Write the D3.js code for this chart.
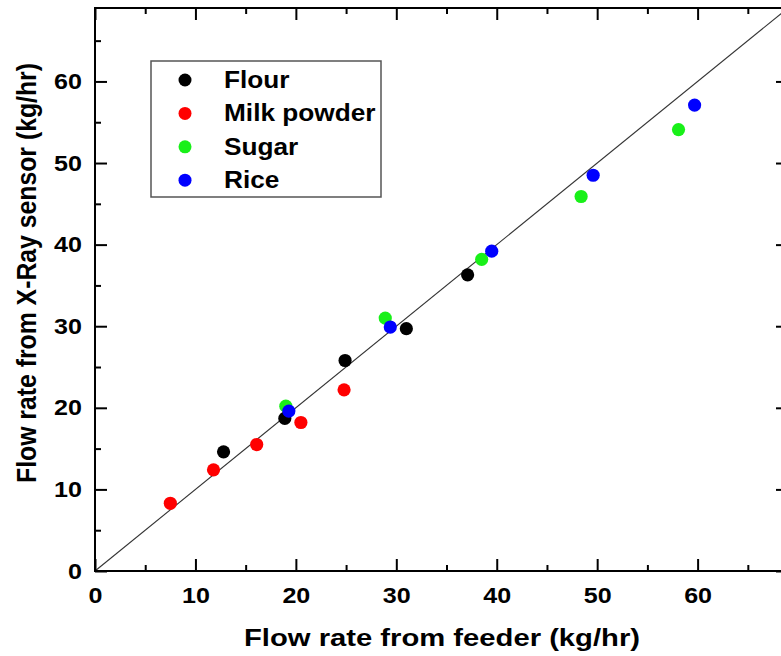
<!DOCTYPE html>
<html>
<head>
<meta charset="utf-8">
<script src="https://cdn.jsdelivr.net/npm/d3@7"></script>
<style>
  body { margin: 0; background: #fff; }
  text { font-family: "Liberation Sans", Arial, sans-serif; font-weight: bold; fill: #000; }
</style>
</head>
<body>
<svg id="chart" width="781" height="656"></svg>
<script>
// flow rate from feeder (x) vs flow rate from X-ray sensor (y), kg/hr
const seriesNames = ["Flour", "Milk powder", "Sugar", "Rice"];
const seriesColors = ["#000000", "#ff0000", "#19f019", "#0000ff"];

const flourX = [12.8, 18.9, 24.9, 31.0, 37.1];
const flourY = [14.6, 18.7, 25.8, 29.7, 36.3];
const milkX = [7.5, 11.8, 16.1, 20.5, 24.8];
const milkY = [8.3, 12.4, 15.5, 18.2, 22.2];
const sugarX = [19.0, 28.9, 38.5, 48.4, 58.1];
const sugarY = [20.2, 31.0, 38.2, 45.9, 54.1];
const riceX = [19.3, 29.4, 39.5, 49.6, 59.7];
const riceY = [19.6, 29.9, 39.2, 48.5, 57.1];

const majorTicks = [0, 10, 20, 30, 40, 50, 60];
const minorTicks = [5, 15, 25, 35, 45, 55, 65];

const plotLeft = 95, plotRight = 788, plotTop = 8, plotBottom = 571;
const stretchX = 1.14;

const svg = d3.select("#chart");

const x = d3.scaleLinear().domain([0, 69]).range([plotLeft, plotRight]);
const y = d3.scaleLinear().domain([0, 69]).range([plotBottom, plotTop]);

// widen text horizontally like the original image
const stretch = (sel) => sel.each(function () {
  const w = this.getComputedTextLength();
  d3.select(this).attr("textLength", w * stretchX).attr("lengthAdjust", "spacingAndGlyphs");
});

// y = x reference line
svg.append("line")
  .attr("x1", x(0)).attr("y1", y(0))
  .attr("x2", x(69)).attr("y2", y(69))
  .attr("stroke", "#333")
  .attr("stroke-width", 1.1);

const series = [
  { xs: flourX, ys: flourY },
  { xs: milkX, ys: milkY },
  { xs: sugarX, ys: sugarY },
  { xs: riceX, ys: riceY }
];

series.forEach((s, i) => {
  svg.append("g")
    .selectAll("circle")
    .data(s.xs.map((v, j) => [v, s.ys[j]]))
    .enter()
    .append("circle")
    .attr("cx", d => x(d[0]))
    .attr("cy", d => y(d[1]))
    .attr("r", 6.6)
    .attr("fill", seriesColors[i]);
});

// axes, ticks pointing inward
const addAxis = (axis, tr, labels) => {
  const g = svg.append("g").attr("transform", tr).call(axis);
  g.select(".domain").remove();
  g.selectAll(".tick line").attr("stroke", "#000").attr("stroke-width", 2);
  if (!labels) g.selectAll(".tick text").remove();
  else g.selectAll(".tick text").attr("font-size", 22).attr("font-family", null).call(stretch);
  return g;
};

addAxis(d3.axisBottom(x).tickValues(majorTicks).tickSize(-12).tickPadding(16).tickFormat(d3.format("d")),
  `translate(0,${plotBottom})`, true);
addAxis(d3.axisBottom(x).tickValues(minorTicks).tickSize(-6), `translate(0,${plotBottom})`, false);
addAxis(d3.axisTop(x).tickValues(majorTicks).tickSize(-12), `translate(0,${plotTop})`, false);
addAxis(d3.axisTop(x).tickValues(minorTicks).tickSize(-6), `translate(0,${plotTop})`, false);
addAxis(d3.axisLeft(y).tickValues(majorTicks).tickSize(-12).tickPadding(13).tickFormat(d3.format("d")),
  `translate(${plotLeft},0)`, true);
addAxis(d3.axisLeft(y).tickValues(minorTicks).tickSize(-6), `translate(${plotLeft},0)`, false);
addAxis(d3.axisRight(y).tickValues(majorTicks).tickSize(-12), `translate(${plotRight},0)`, false);
addAxis(d3.axisRight(y).tickValues(minorTicks).tickSize(-6), `translate(${plotRight},0)`, false);

svg.append("rect")
  .attr("x", plotLeft).attr("y", plotTop)
  .attr("width", plotRight - plotLeft).attr("height", plotBottom - plotTop)
  .attr("fill", "none")
  .attr("stroke", "#000")
  .attr("stroke-width", 2);

// axis titles
svg.append("text")
  .attr("x", 244)
  .attr("y", 646)
  .attr("font-size", 24)
  .attr("textLength", 396)
  .attr("lengthAdjust", "spacingAndGlyphs")
  .text("Flow rate from feeder (kg/hr)");

svg.append("text")
  .attr("transform", "translate(36,483) rotate(-90)")
  .attr("font-size", 27)
  .attr("textLength", 420)
  .attr("lengthAdjust", "spacingAndGlyphs")
  .text("Flow rate from X-Ray sensor (kg/hr)");

// legend
const legend = svg.append("g");
legend.append("rect")
  .attr("x", 151).attr("y", 61)
  .attr("width", 230).attr("height", 136)
  .attr("fill", "#fff")
  .attr("stroke", "#555")
  .attr("stroke-width", 1.5);

const rows = legend.selectAll("g.row")
  .data(seriesNames)
  .enter()
  .append("g")
  .attr("class", "row")
  .attr("transform", (d, i) => `translate(0,${80 + i * 33.4})`);

rows.append("circle")
  .attr("cx", 185).attr("cy", 0).attr("r", 6.5)
  .attr("fill", (d, i) => seriesColors[i]);

rows.append("text")
  .attr("x", 224).attr("y", 8)
  .attr("font-size", 23)
  .text(d => d)
  .call(stretch);
</script>
</body>
</html>
